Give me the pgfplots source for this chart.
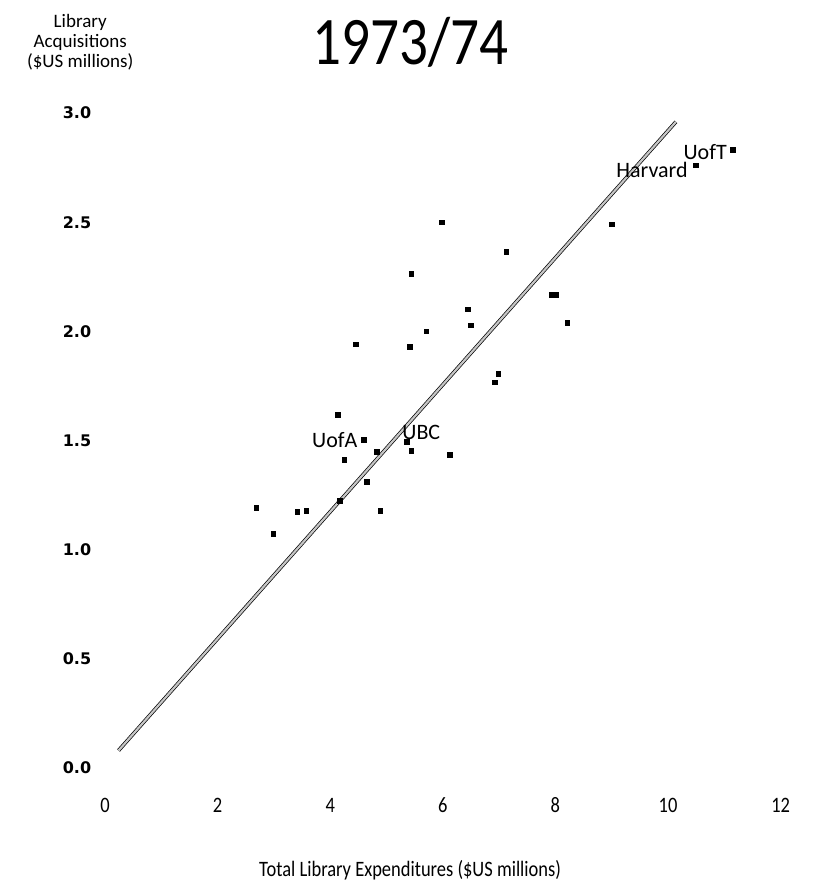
\documentclass[border=0pt]{standalone}
\usepackage{pgfplots}
\pgfplotsset{compat=1.18}
\usepackage{fontspec}
\setmainfont{Carlito}
\newfontfamily\ytfont{DejaVu Sans}
\newfontfamily\narrowfont{Carlito}[FakeStretch=0.84]
\begin{document}
\begin{tikzpicture}
\begin{axis}[
  x=28.15pt, y=109.15pt,
  xmin=0, xmax=12, ymin=0, ymax=3,
  clip=false,
  axis line style={draw=none},
  tick style={draw=none},
  xtick={0,2,4,6,8,10,12},
  ytick={0,0.5,1,1.5,2,2.5,3},
  /pgf/number format/assume math mode=true,
  yticklabel style={/pgf/number format/.cd, fixed, fixed zerofill, precision=1, /tikz/.cd,
     font=\ytfont\bfseries\fontsize{8}{8}\selectfont, anchor=center, xshift=-14pt},
  xticklabel style={font=\narrowfont\fontsize{11}{11}\selectfont, anchor=center, yshift=-18.5pt},
]
\path (axis cs:-1.865,-0.5405) rectangle (axis cs:12.593,3.518);
% regression line
\addplot[draw=black, line width=0.35pt, double=gray!45, double distance=1.1pt] coordinates {(0.24,0.08) (10.14,2.96)};
% universities
\addplot[only marks, mark=square*, mark size=1.15pt, black] coordinates {
(5.98,2.50) (7.13,2.365) (9.00,2.49) (5.44,2.263) (6.45,2.10) (6.50,2.028)
(5.71,2.00) (4.46,1.94) (5.42,1.93) (7.93,2.167) (8.01,2.167) (8.21,2.04)
(6.99,1.805) (6.92,1.767) (4.14,1.618) (4.60,1.504) (5.36,1.495) (5.44,1.452)
(4.83,1.449) (6.13,1.434) (4.25,1.411) (4.65,1.31) (2.69,1.192) (3.42,1.173)
(3.58,1.177) (4.17,1.223) (4.89,1.179) (2.99,1.072) (11.15,2.83) (10.50,2.76)
};
\node[anchor=east, inner sep=0pt, font=\fontsize{11}{11}\selectfont] at (axis cs:4.49,1.503) {UofA};
\node[anchor=west, inner sep=0pt, font=\fontsize{11}{11}\selectfont] at (axis cs:5.275,1.535) {UBC};
\node[anchor=east, inner sep=0pt, font=\fontsize{11}{11}\selectfont] at (axis cs:10.355,2.739) {Harvard};
\node[anchor=east, inner sep=0pt, font=\fontsize{11}{11}\selectfont] at (axis cs:11.05,2.822) {UofT};
% titles
\node[inner sep=0pt, font=\narrowfont\fontsize{34}{34}\selectfont] at (axis cs:5.42,3.326) {1973/74};
\node[align=center, inner sep=0pt, font=\fontsize{9.5}{10}\selectfont] at (axis cs:-0.44,3.326) {Library\\Acquisitions\\(\$US millions)};
\node[inner sep=0pt, font=\narrowfont\fontsize{11}{11}\selectfont] at (axis cs:5.42,-0.467) {Total Library Expenditures (\$US millions)};
\end{axis}
\end{tikzpicture}
\end{document}
